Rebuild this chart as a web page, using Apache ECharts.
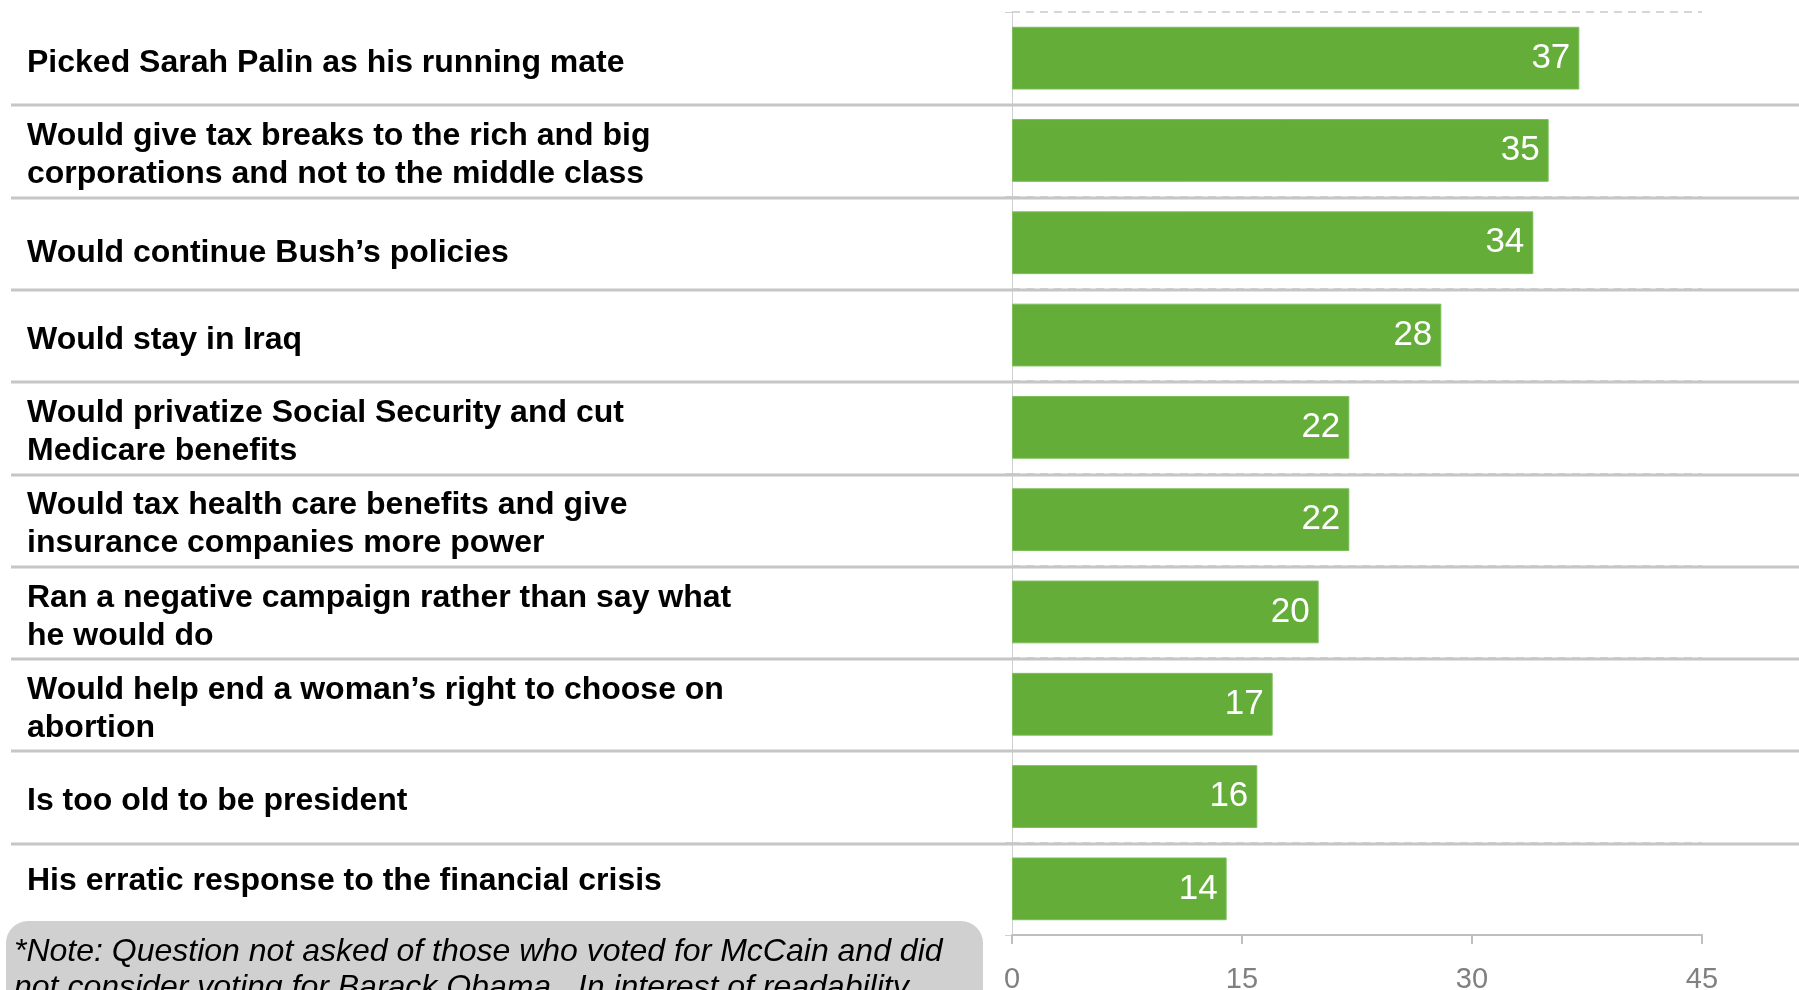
<!DOCTYPE html>
<html lang="en">

<head>
    <meta charset="UTF-8">
    <title>Reasons against McCain</title>
    <script src="https://cdn.jsdelivr.net/npm/echarts@6/dist/echarts.min.js"></script>
    <style>
        html, body {
            margin: 0;
            padding: 0;
            background: #ffffff;
        }

        .box {
            width: 1799px;
            height: 990px;
        }
    </style>
</head>

<body>
    <div class="box"></div>

    <script>
        // data
        var categories = [
            'Picked Sarah Palin as his running mate',
            'Would give tax breaks to the rich and big\ncorporations and not to the middle class',
            'Would continue Bush\u2019s policies',
            'Would stay in Iraq',
            'Would privatize Social Security and cut\nMedicare benefits',
            'Would tax health care benefits and give\ninsurance companies more power',
            'Ran a negative campaign rather than say what\nhe would do',
            'Would help end a woman\u2019s right to choose on\nabortion',
            'Is too old to be president',
            'His erratic response to the financial crisis'
        ];
        var values = [37, 35, 34, 28, 22, 22, 20, 17, 16, 14];
        var xTicks = [0, 15, 30, 45];
        var noteText = '*Note: Question not asked of those who voted for McCain and did\nnot consider voting for Barack Obama.  In interest of readability';

        // a couple of row texts sit a bit off centre in the original
        var labelNudge = { 2: 'down', 9: 'up' };

        var labelFont = { color: '#000000', fontWeight: 'bold', fontSize: 32, lineHeight: 38 };

        var myChart = echarts.init(document.querySelector('.box'));

        var option = {
            animation: false,
            textStyle: {
                fontFamily: 'Liberation Sans, Arial, sans-serif'
            },
            grid: [{
                left: 1012,
                right: 97,
                top: 12,
                bottom: 55,
                containLabel: false,
                outerBoundsMode: 'none'
            }, {
                // same rows, a few px lower, only for the text on the left
                left: 1012,
                right: 97,
                top: 17,
                bottom: 50,
                containLabel: false,
                outerBoundsMode: 'none'
            }],
            xAxis: [{
                type: 'value',
                gridIndex: 0,
                min: xTicks[0],
                max: xTicks[xTicks.length - 1],
                interval: 15,
                axisLine: {
                    show: true,
                    lineStyle: { color: '#bfbfbf', width: 2 }
                },
                axisTick: {
                    show: true,
                    length: 9,
                    lineStyle: { color: '#bfbfbf', width: 2 }
                },
                splitLine: { show: false },
                axisLabel: {
                    color: '#808080',
                    fontSize: 29,
                    margin: 30
                }
            }, {
                type: 'value',
                gridIndex: 1,
                min: xTicks[0],
                max: xTicks[xTicks.length - 1],
                show: false
            }],
            yAxis: [{
                type: 'category',
                gridIndex: 0,
                inverse: true,
                data: categories,
                axisLine: {
                    show: true,
                    lineStyle: { color: '#d0d0d0', width: 1 }
                },
                axisTick: {
                    show: true,
                    length: 7,
                    lineStyle: { color: '#d0d0d0' }
                },
                splitLine: {
                    show: true,
                    lineStyle: { color: '#d6d6d6', type: [8, 6], width: 2 }
                },
                axisLabel: { show: false }
            }, {
                type: 'category',
                gridIndex: 1,
                inverse: true,
                data: categories,
                axisLine: { show: false },
                axisTick: { show: false },
                splitLine: { show: false },
                axisLabel: {
                    align: 'left',
                    margin: 985,
                    color: labelFont.color,
                    fontWeight: labelFont.fontWeight,
                    fontSize: labelFont.fontSize,
                    lineHeight: labelFont.lineHeight,
                    formatter: function (value, index) {
                        var k = labelNudge[index];
                        return k ? '{' + k + '|' + value + '}' : value;
                    },
                    rich: {
                        down: Object.assign({ padding: [10, 0, 0, 0] }, labelFont),
                        up: Object.assign({ padding: [0, 0, 26, 0] }, labelFont)
                    }
                }
            }],
            series: [{
                type: 'bar',
                xAxisIndex: 0,
                yAxisIndex: 0,
                data: values,
                barCategoryGap: '32%',
                itemStyle: {
                    color: '#63ad38',
                    borderColor: '#7cbf5a',
                    borderWidth: 1
                },
                label: {
                    show: true,
                    position: 'insideRight',
                    distance: 9,
                    color: '#ffffff',
                    fontSize: 35
                }
            }]
        };

        myChart.setOption(option);

        // full-width separators between the rows, placed from the category scale
        var graphics = [];
        for (var i = 1; i < categories.length; i++) {
            var y0 = myChart.convertToPixel({ yAxisIndex: 0 }, categories[i - 1]);
            var y1 = myChart.convertToPixel({ yAxisIndex: 0 }, categories[i]);
            var y = Math.round((y0 + y1) / 2) + 1;
            graphics.push({
                type: 'line',
                shape: { x1: 11, y1: y, x2: 1799, y2: y },
                style: { stroke: '#c6c6c6', lineWidth: 3 },
                z: 1
            });
        }

        // note box at the bottom left
        graphics.push({
            type: 'rect',
            shape: { x: 6, y: 921, width: 977, height: 120, r: 22 },
            style: { fill: '#d0d0d0' },
            z: 5
        });
        graphics.push({
            type: 'text',
            x: 14,
            y: 934,
            style: {
                text: noteText,
                fill: '#000000',
                font: 'italic 32px "Liberation Sans", Arial, sans-serif',
                lineHeight: 36
            },
            z: 6
        });

        myChart.setOption({ graphic: graphics });
    </script>
</body>

</html>
